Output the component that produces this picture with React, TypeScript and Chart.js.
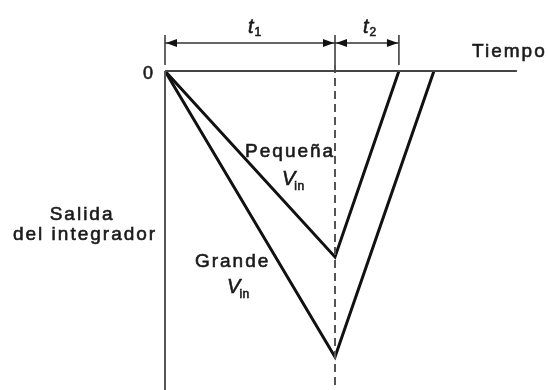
import React, { useEffect, useRef } from "react";
import { Chart, registerables } from "chart.js";

Chart.register(...registerables);

// Data (time in units of t1, output normalised to large-Vin peak)
const smallTimes = [0, 1, 1.376];
const smallOutput = [0, -0.65, 0];
const largeTimes = [0, 1, 1.582];
const largeOutput = [0, -1, 0];
const t1End = 1;
const t2End = 1.376;
const timeAxisEnd = 2.07;
const yLabelLines = ["Salida", "del integrador"];
const timeLabel = "Tiempo";
const smallLabel = "Pequeña";
const largeLabel = "Grande";
const zeroLabel = "0";

const X_MIN = -0.9706;
const X_MAX = 2.2588;
const Y_MAX = 0.2483;
const Y_MIN = -1.1154;
const TICK_TOP = 0.1259;
const TICK_BOTTOM = 0.021;
const DIM_Y = 0.0979;

const pts = (xs: number[], ys: number[]) => xs.map((x, i) => ({ x, y: ys[i] }));

const FONT = '"Liberation Sans", Arial, Helvetica, sans-serif';

const annotPlugin = {
  id: "annot",
  afterDatasetsDraw(chart: any) {
    const ctx = chart.ctx as CanvasRenderingContext2D;
    const xs = chart.scales.x;
    const ys = chart.scales.y;
    const X = (v: number) => xs.getPixelForValue(v);
    const Y = (v: number) => ys.getPixelForValue(v);
    ctx.save();
    // Arrowheads on dimension line
    const arrow = (tipX: number, dir: number) => {
      const y = Y(DIM_Y);
      ctx.beginPath();
      ctx.moveTo(tipX, y);
      ctx.lineTo(tipX - dir * 11, y - 4);
      ctx.lineTo(tipX - dir * 11, y + 4);
      ctx.closePath();
      ctx.fillStyle = "#111";
      ctx.fill();
    };
    arrow(X(0) + 1, -1);
    arrow(X(t1End) - 1, 1);
    arrow(X(t1End) + 1, -1);
    arrow(X(t2End) - 1, 1);

    ctx.fillStyle = "#1a1a1a";
    ctx.strokeStyle = "#1a1a1a";
    ctx.lineWidth = 0.6;
    ctx.textBaseline = "alphabetic";
    const setFont = (f: string, ls: string) => {
      ctx.font = f;
      (ctx as any).letterSpacing = ls;
    };
    const txt = (s: string, x: number, y: number) => {
      ctx.fillText(s, x, y);
      ctx.strokeText(s, x, y);
    };
    // y-axis label
    setFont(`19px ${FONT}`, "2px");
    ctx.textAlign = "center";
    txt(yLabelLines[0], X(-0.476) - 2, Y(-0.521));
    txt(yLabelLines[1], X(-0.476) + 1, Y(-0.591));
    // time label
    ctx.textAlign = "left";
    txt(timeLabel, X(1.812) - 1, Y(0.049));
    // series labels
    txt(smallLabel, X(0.471), Y(-0.301));
    txt(largeLabel, X(0.176), Y(-0.685));
    // zero
    ctx.textAlign = "right";
    setFont(`18px ${FONT}`, "0px");
    txt(zeroLabel, X(-0.0706), Y(-0.028));

    // V_in labels
    const vin = (x: number, y: number) => {
      ctx.textAlign = "left";
      setFont(`italic 20px ${FONT}`, "0px");
      txt("V", x, y);
      const w = ctx.measureText("V").width;
      setFont(`12px ${FONT}`, "0.5px");
      txt("in", x + w - 1, y + 5);
    };
    vin(X(0.688), Y(-0.399));
    vin(X(0.365), Y(-0.776));

    // t1, t2
    const tsub = (x: number, sub: string) => {
      ctx.textAlign = "left";
      setFont(`italic 20px ${FONT}`, "0px");
      const y = Y(0.133);
      txt("t", x, y);
      const w = ctx.measureText("t").width;
      setFont(`12px ${FONT}`, "0px");
      txt(sub, x + w + 1, y + 3);
    };
    tsub(X(0.488), "1");
    tsub(X(1.165), "2");
    ctx.restore();
  },
};

export default function App() {
  const ref = useRef<HTMLCanvasElement>(null);
  useEffect(() => {
    if (!ref.current) return;
    const line = (data: any[], color: string, width: number, dash: number[] = []) => ({
      data,
      borderColor: color,
      borderWidth: width,
      borderDash: dash,
      showLine: true,
      pointRadius: 0,
      fill: false,
      tension: 0,
      clip: false as any,
    });
    const chart = new Chart(ref.current, {
      type: "scatter",
      data: {
        datasets: [
          line([{ x: 0, y: 0 }, { x: 0, y: Y_MIN }], "#555", 2),
          line([{ x: 0, y: 0 }, { x: timeAxisEnd, y: 0 }], "#444", 2),
          line([{ x: 0, y: TICK_TOP }, { x: 0, y: TICK_BOTTOM }], "#333", 1.5),
          line([{ x: t1End, y: TICK_TOP }, { x: t1End, y: TICK_BOTTOM }], "#333", 1.5),
          line([{ x: t2End, y: TICK_TOP }, { x: t2End, y: TICK_BOTTOM }], "#333", 1.5),
          line([{ x: t1End, y: TICK_BOTTOM }, { x: t1End, y: Y_MIN }], "#555", 2, [8, 5]),
          line([{ x: 0, y: DIM_Y }, { x: t2End, y: DIM_Y }], "#333", 1.3),
          line(pts(smallTimes, smallOutput), "#111", 3),
          line(pts(largeTimes, largeOutput), "#111", 3),
        ],
      },
      options: {
        responsive: false,
        animation: false,
        layout: { padding: 0 },
        plugins: { legend: { display: false }, tooltip: { enabled: false } },
        scales: {
          x: { type: "linear", min: X_MIN, max: X_MAX, display: false },
          y: { type: "linear", min: Y_MIN, max: Y_MAX, display: false },
        },
      },
      plugins: [annotPlugin],
    });
    return () => chart.destroy();
  }, []);
  return (
    <div style={{ position: "absolute", left: 0, top: 0, width: 549, height: 390, background: "#fff" }}>
      <canvas ref={ref} width={549} height={390} style={{ display: "block" }} />
    </div>
  );
}
